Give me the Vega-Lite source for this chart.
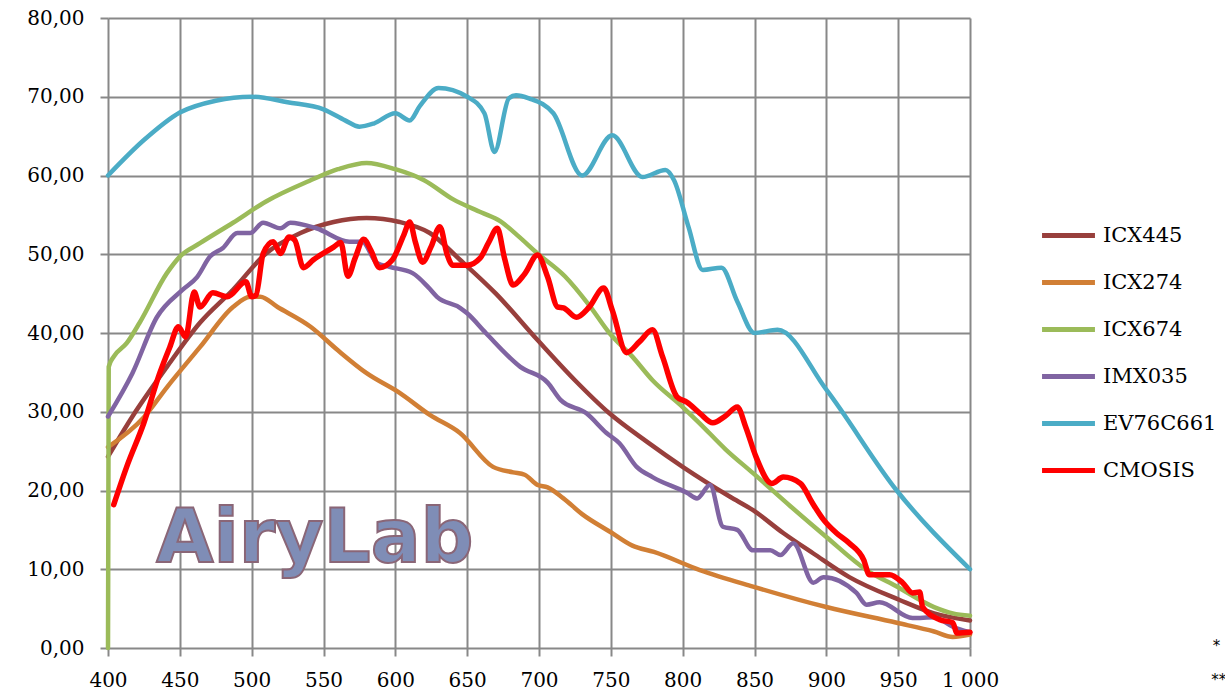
{
  "$schema": "https://vega.github.io/schema/vega-lite/v6.json",
  "autosize": "none",
  "width": 862,
  "height": 630,
  "padding": {"left": 108, "top": 18, "right": 255, "bottom": 47},
  "background": "white",
  "config": {
    "view": {"stroke": null},
    "font": "DejaVu Serif",
    "axis": {
      "grid": true, "gridColor": "#888888", "gridWidth": 2, "gridOpacity": 1,
      "domain": false, "tickColor": "#888888", "tickWidth": 2, "tickSize": 8,
      "labelFont": "DejaVu Serif", "labelFontSize": 20, "labelColor": "#000000", "title": null,
      "labelFlush": false, "labelOverlap": false
    }
  },
  "datasets": {
    "curves": [
      {"series":"ICX445","nm":400,"v":24.3},{"series":"ICX445","nm":417,"v":29.4},{"series":"ICX445","nm":441,"v":35.7},{"series":"ICX445","nm":464,"v":41.3},{"series":"ICX445","nm":487,"v":45.5},{"series":"ICX445","nm":510,"v":50.1},{"series":"ICX445","nm":534,"v":52.7},{"series":"ICX445","nm":557,"v":54.1},{"series":"ICX445","nm":580,"v":54.6},{"series":"ICX445","nm":603,"v":54.1},{"series":"ICX445","nm":624,"v":52.7},{"series":"ICX445","nm":645,"v":49.3},{"series":"ICX445","nm":670,"v":45},{"series":"ICX445","nm":699,"v":39.1},{"series":"ICX445","nm":725,"v":34},{"series":"ICX445","nm":749,"v":29.8},{"series":"ICX445","nm":775,"v":26.2},{"series":"ICX445","nm":800,"v":23},{"series":"ICX445","nm":833,"v":19.2},{"series":"ICX445","nm":849,"v":17.5},{"series":"ICX445","nm":870,"v":14.6},{"series":"ICX445","nm":891,"v":12},{"series":"ICX445","nm":916,"v":9},{"series":"ICX445","nm":951,"v":6.1},{"series":"ICX445","nm":975,"v":4.4},{"series":"ICX445","nm":1000,"v":3.5},
      {"series":"ICX274","nm":400,"v":25.5},{"series":"ICX274","nm":425,"v":29.3},{"series":"ICX274","nm":441,"v":33.1},{"series":"ICX274","nm":464,"v":38.2},{"series":"ICX274","nm":487,"v":43.3},{"series":"ICX274","nm":499,"v":44.6},{"series":"ICX274","nm":506,"v":44.6},{"series":"ICX274","nm":518,"v":43.3},{"series":"ICX274","nm":541,"v":40.8},{"series":"ICX274","nm":560,"v":37.8},{"series":"ICX274","nm":580,"v":34.9},{"series":"ICX274","nm":603,"v":32.4},{"series":"ICX274","nm":624,"v":29.6},{"series":"ICX274","nm":645,"v":27.3},{"series":"ICX274","nm":668,"v":23},{"series":"ICX274","nm":682,"v":22.3},{"series":"ICX274","nm":690,"v":22},{"series":"ICX274","nm":699,"v":20.7},{"series":"ICX274","nm":706,"v":20.4},{"series":"ICX274","nm":717,"v":19},{"series":"ICX274","nm":730,"v":17},{"series":"ICX274","nm":750,"v":14.7},{"series":"ICX274","nm":765,"v":13},{"series":"ICX274","nm":780,"v":12.2},{"series":"ICX274","nm":812,"v":9.9},{"series":"ICX274","nm":849,"v":7.8},{"series":"ICX274","nm":900,"v":5.2},{"series":"ICX274","nm":949,"v":3.2},{"series":"ICX274","nm":975,"v":2.1},{"series":"ICX274","nm":988,"v":1.4},{"series":"ICX274","nm":1000,"v":1.7},
      {"series":"ICX674","nm":400,"v":0},{"series":"ICX674","nm":400.5,"v":35.7},{"series":"ICX674","nm":404,"v":37},{"series":"ICX674","nm":413,"v":38.7},{"series":"ICX674","nm":422,"v":41.3},{"series":"ICX674","nm":441,"v":47.6},{"series":"ICX674","nm":450,"v":49.7},{"series":"ICX674","nm":464,"v":51.4},{"series":"ICX674","nm":487,"v":54},{"series":"ICX674","nm":510,"v":56.7},{"series":"ICX674","nm":540,"v":59.3},{"series":"ICX674","nm":560,"v":60.8},{"series":"ICX674","nm":580,"v":61.6},{"series":"ICX674","nm":600,"v":60.8},{"series":"ICX674","nm":620,"v":59.4},{"series":"ICX674","nm":640,"v":57},{"series":"ICX674","nm":660,"v":55.3},{"series":"ICX674","nm":673,"v":54.2},{"series":"ICX674","nm":685,"v":52.4},{"series":"ICX674","nm":699,"v":50.1},{"series":"ICX674","nm":718,"v":47.2},{"series":"ICX674","nm":735,"v":43.5},{"series":"ICX674","nm":749,"v":40},{"series":"ICX674","nm":765,"v":37},{"series":"ICX674","nm":779,"v":34},{"series":"ICX674","nm":800,"v":30.6},{"series":"ICX674","nm":812,"v":28.5},{"series":"ICX674","nm":830,"v":25.2},{"series":"ICX674","nm":849,"v":22.2},{"series":"ICX674","nm":875,"v":18},{"series":"ICX674","nm":900,"v":14.1},{"series":"ICX674","nm":928,"v":9.9},{"series":"ICX674","nm":949,"v":7.8},{"series":"ICX674","nm":975,"v":5.2},{"series":"ICX674","nm":988,"v":4.4},{"series":"ICX674","nm":1000,"v":4.1},
      {"series":"IMX035","nm":400,"v":29.4},{"series":"IMX035","nm":417,"v":34.9},{"series":"IMX035","nm":434,"v":42},{"series":"IMX035","nm":452,"v":45.5},{"series":"IMX035","nm":462,"v":47.1},{"series":"IMX035","nm":471,"v":49.7},{"series":"IMX035","nm":480,"v":50.8},{"series":"IMX035","nm":490,"v":52.7},{"series":"IMX035","nm":499,"v":52.7},{"series":"IMX035","nm":508,"v":54},{"series":"IMX035","nm":520,"v":53.3},{"series":"IMX035","nm":527,"v":54},{"series":"IMX035","nm":545,"v":53.3},{"series":"IMX035","nm":568,"v":51.6},{"series":"IMX035","nm":577,"v":51.6},{"series":"IMX035","nm":587,"v":48.9},{"series":"IMX035","nm":596,"v":48.4},{"series":"IMX035","nm":612,"v":47.6},{"series":"IMX035","nm":623,"v":45.8},{"series":"IMX035","nm":629,"v":44.6},{"series":"IMX035","nm":645,"v":43.2},{"series":"IMX035","nm":650,"v":42.5},{"series":"IMX035","nm":663,"v":40},{"series":"IMX035","nm":687,"v":35.7},{"series":"IMX035","nm":706,"v":33.7},{"series":"IMX035","nm":715,"v":31.5},{"series":"IMX035","nm":733,"v":29.8},{"series":"IMX035","nm":747,"v":27.3},{"series":"IMX035","nm":756,"v":26},{"series":"IMX035","nm":768,"v":23},{"series":"IMX035","nm":779,"v":21.7},{"series":"IMX035","nm":803,"v":19.7},{"series":"IMX035","nm":810,"v":19},{"series":"IMX035","nm":819,"v":20.7},{"series":"IMX035","nm":828,"v":15.4},{"series":"IMX035","nm":838,"v":15},{"series":"IMX035","nm":849,"v":12.4},{"series":"IMX035","nm":861,"v":12.4},{"series":"IMX035","nm":868,"v":11.8},{"series":"IMX035","nm":877,"v":13.3},{"series":"IMX035","nm":891,"v":8.3},{"series":"IMX035","nm":898,"v":9},{"series":"IMX035","nm":921,"v":7},{"series":"IMX035","nm":928,"v":5.5},{"series":"IMX035","nm":937,"v":5.8},{"series":"IMX035","nm":960,"v":3.8},{"series":"IMX035","nm":975,"v":3.9},{"series":"IMX035","nm":988,"v":2.7},{"series":"IMX035","nm":1000,"v":2},
      {"series":"EV76C661","nm":400,"v":60},{"series":"EV76C661","nm":425,"v":64.5},{"series":"EV76C661","nm":450,"v":68},{"series":"EV76C661","nm":475,"v":69.5},{"series":"EV76C661","nm":500,"v":70},{"series":"EV76C661","nm":525,"v":69.3},{"series":"EV76C661","nm":550,"v":68.4},{"series":"EV76C661","nm":565,"v":67},{"series":"EV76C661","nm":575,"v":66.2},{"series":"EV76C661","nm":585,"v":66.6},{"series":"EV76C661","nm":600,"v":67.9},{"series":"EV76C661","nm":610,"v":67},{"series":"EV76C661","nm":617,"v":68.8},{"series":"EV76C661","nm":630,"v":71.1},{"series":"EV76C661","nm":650,"v":70},{"series":"EV76C661","nm":662,"v":67.9},{"series":"EV76C661","nm":669,"v":63},{"series":"EV76C661","nm":679,"v":69.8},{"series":"EV76C661","nm":684,"v":70.2},{"series":"EV76C661","nm":693,"v":69.8},{"series":"EV76C661","nm":710,"v":67.9},{"series":"EV76C661","nm":730,"v":60},{"series":"EV76C661","nm":751,"v":65.1},{"series":"EV76C661","nm":772,"v":59.8},{"series":"EV76C661","nm":788,"v":60.7},{"series":"EV76C661","nm":794,"v":59.4},{"series":"EV76C661","nm":804,"v":53.5},{"series":"EV76C661","nm":814,"v":48},{"series":"EV76C661","nm":827,"v":48.3},{"series":"EV76C661","nm":838,"v":44},{"series":"EV76C661","nm":850,"v":40},{"series":"EV76C661","nm":866,"v":40.4},{"series":"EV76C661","nm":900,"v":32.8},{"series":"EV76C661","nm":949,"v":20},{"series":"EV76C661","nm":1000,"v":10},
      {"series":"CMOSIS","nm":404,"v":18.2},{"series":"CMOSIS","nm":413,"v":23},{"series":"CMOSIS","nm":425,"v":28.6},{"series":"CMOSIS","nm":436,"v":34.9},{"series":"CMOSIS","nm":443,"v":38.2},{"series":"CMOSIS","nm":449,"v":40.8},{"series":"CMOSIS","nm":454,"v":39.5},{"series":"CMOSIS","nm":460,"v":45.2},{"series":"CMOSIS","nm":464,"v":43.3},{"series":"CMOSIS","nm":473,"v":45.1},{"series":"CMOSIS","nm":483,"v":44.6},{"series":"CMOSIS","nm":496,"v":46.5},{"series":"CMOSIS","nm":500,"v":44.6},{"series":"CMOSIS","nm":503,"v":44.8},{"series":"CMOSIS","nm":508,"v":50.1},{"series":"CMOSIS","nm":515,"v":51.6},{"series":"CMOSIS","nm":520,"v":50.1},{"series":"CMOSIS","nm":526,"v":52.2},{"series":"CMOSIS","nm":530,"v":51.8},{"series":"CMOSIS","nm":536,"v":48.3},{"series":"CMOSIS","nm":543,"v":49.3},{"series":"CMOSIS","nm":557,"v":50.9},{"series":"CMOSIS","nm":562,"v":51.5},{"series":"CMOSIS","nm":567,"v":47.2},{"series":"CMOSIS","nm":572,"v":49.5},{"series":"CMOSIS","nm":578,"v":51.9},{"series":"CMOSIS","nm":583,"v":50.5},{"series":"CMOSIS","nm":589,"v":48.3},{"series":"CMOSIS","nm":598,"v":49.3},{"series":"CMOSIS","nm":606,"v":52.5},{"series":"CMOSIS","nm":610,"v":54.1},{"series":"CMOSIS","nm":614,"v":51.5},{"series":"CMOSIS","nm":619,"v":49},{"series":"CMOSIS","nm":625,"v":51},{"series":"CMOSIS","nm":631,"v":53.5},{"series":"CMOSIS","nm":636,"v":50},{"series":"CMOSIS","nm":640,"v":48.6},{"series":"CMOSIS","nm":650,"v":48.6},{"series":"CMOSIS","nm":659,"v":49.5},{"series":"CMOSIS","nm":665,"v":51.5},{"series":"CMOSIS","nm":671,"v":53.3},{"series":"CMOSIS","nm":676,"v":49.5},{"series":"CMOSIS","nm":682,"v":46.1},{"series":"CMOSIS","nm":690,"v":47.5},{"series":"CMOSIS","nm":699,"v":49.9},{"series":"CMOSIS","nm":706,"v":47.1},{"series":"CMOSIS","nm":713,"v":43.3},{"series":"CMOSIS","nm":717,"v":43.2},{"series":"CMOSIS","nm":726,"v":42},{"series":"CMOSIS","nm":735,"v":43.3},{"series":"CMOSIS","nm":745,"v":45.7},{"series":"CMOSIS","nm":751,"v":42.9},{"series":"CMOSIS","nm":761,"v":37.5},{"series":"CMOSIS","nm":770,"v":38.9},{"series":"CMOSIS","nm":779,"v":40.4},{"series":"CMOSIS","nm":786,"v":37},{"series":"CMOSIS","nm":796,"v":31.9},{"series":"CMOSIS","nm":803,"v":31.2},{"series":"CMOSIS","nm":812,"v":29.8},{"series":"CMOSIS","nm":821,"v":28.6},{"series":"CMOSIS","nm":830,"v":29.5},{"series":"CMOSIS","nm":838,"v":30.6},{"series":"CMOSIS","nm":844,"v":28},{"series":"CMOSIS","nm":851,"v":24.3},{"series":"CMOSIS","nm":862,"v":20.9},{"series":"CMOSIS","nm":870,"v":21.7},{"series":"CMOSIS","nm":882,"v":20.9},{"series":"CMOSIS","nm":890,"v":18.5},{"series":"CMOSIS","nm":898,"v":16.3},{"series":"CMOSIS","nm":907,"v":14.6},{"series":"CMOSIS","nm":916,"v":13.3},{"series":"CMOSIS","nm":926,"v":11.2},{"series":"CMOSIS","nm":930,"v":9.3},{"series":"CMOSIS","nm":944,"v":9.3},{"series":"CMOSIS","nm":953,"v":8.3},{"series":"CMOSIS","nm":960,"v":7},{"series":"CMOSIS","nm":965,"v":7.1},{"series":"CMOSIS","nm":967,"v":5.2},{"series":"CMOSIS","nm":979,"v":3.6},{"series":"CMOSIS","nm":988,"v":3.2},{"series":"CMOSIS","nm":991,"v":1.9},{"series":"CMOSIS","nm":1000,"v":2}
    ],
    "marks": [
      {"text": "AiryLab"}
    ]
  },
  "layer": [
    {
      "data": {"name": "marks"},
      "mark": {"type": "text", "font": "DejaVu Sans", "fontWeight": "bold", "fontSize": 74, "align": "center", "baseline": "alphabetic", "fill": "#7F8DB6", "stroke": "#8A6677", "strokeWidth": 2},
      "encoding": {
        "x": {"datum": 544, "type": "quantitative"},
        "y": {"datum": 10.9, "type": "quantitative"},
        "text": {"field": "text"}
      }
    },
    {
      "data": {"name": "curves"},
      "transform": [{"filter": "datum.series != 'CMOSIS'"}],
      "mark": {"type": "line", "interpolate": "monotone", "strokeWidth": 4.5, "strokeCap": "round", "strokeJoin": "round"},
      "encoding": {
        "x": {"field": "nm", "type": "quantitative", "scale": {"domain": [400, 1000], "nice": false, "zero": false},
          "axis": {"values": [400,450,500,550,600,650,700,750,800,850,900,950,1000], "labelExpr": "datum.value == 1000 ? '1 000' : datum.label", "labelPadding": 14}},
        "y": {"field": "v", "type": "quantitative", "scale": {"domain": [0, 80], "nice": false},
          "axis": {"values": [0,10,20,30,40,50,60,70,80], "labelExpr": "replace(format(datum.value, '.2f'), '.', ',')", "labelPadding": 16}},
        "color": {"field": "series", "type": "nominal",
          "scale": {"domain": ["ICX445","ICX274","ICX674","IMX035","EV76C661","CMOSIS"], "range": ["#983F3C","#D17F35","#9BBB59","#8064A2","#4BACC6","#FF0000"]},
          "legend": {"title": null, "orient": "none", "legendX": 950, "legendY": 207, "padding": 0, "symbolType": "M-5,0H5", "symbolSize": 112, "symbolStrokeWidth": 5, "labelFont": "DejaVu Serif", "labelFontSize": 21, "labelColor": "#000000", "labelOffset": 24, "rowPadding": 25}},
        "detail": {"field": "series"}
      }
    },
    {
      "data": {"name": "curves"},
      "transform": [{"filter": "datum.series == 'CMOSIS'"}],
      "mark": {"type": "line", "interpolate": "monotone", "strokeWidth": 5.5, "strokeCap": "round", "strokeJoin": "round"},
      "encoding": {
        "x": {"field": "nm", "type": "quantitative"},
        "y": {"field": "v", "type": "quantitative"},
        "color": {"field": "series", "type": "nominal"}
      }
    },
    {
      "data": {"values": [{"t": "*", "nm": 1169, "v": 0.2}, {"t": "**", "nm": 1168, "v": -4.1}]},
      "mark": {"type": "text", "font": "DejaVu Sans", "fontSize": 15, "align": "left", "baseline": "middle", "color": "#000000"},
      "encoding": {
        "x": {"field": "nm", "type": "quantitative"},
        "y": {"field": "v", "type": "quantitative"},
        "text": {"field": "t"}
      }
    }
  ]
}
